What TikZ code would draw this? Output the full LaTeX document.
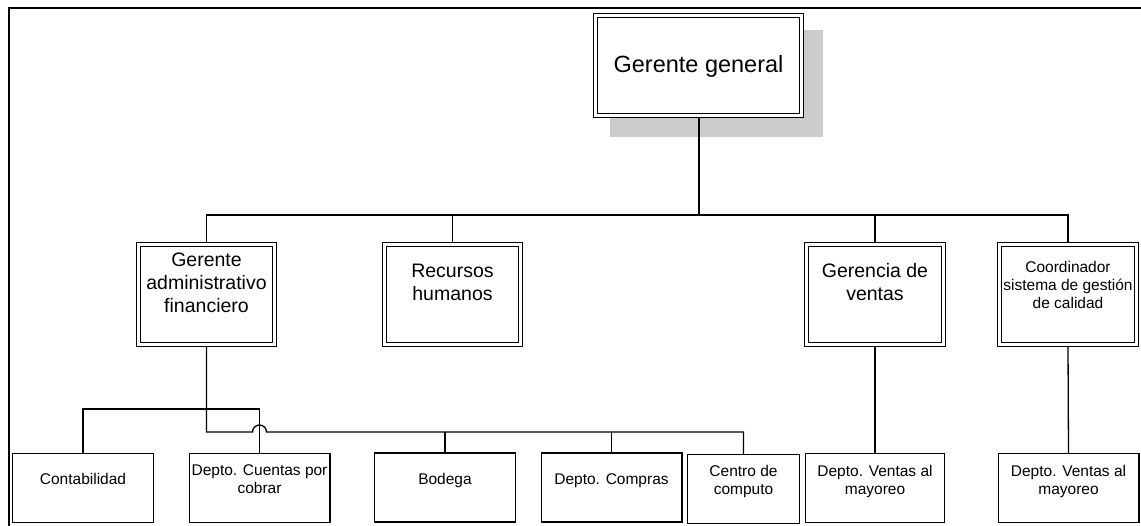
\documentclass[tikz,border=0pt]{standalone}
\usepackage{fontspec}
\setmainfont{Liberation Sans}
\usetikzlibrary{backgrounds,calc}
\definecolor{shadowgray}{HTML}{CCCCCC}
\begin{document}
\begin{tikzpicture}[x=1pt,y=-1pt,
  dbox/.style={draw=black, line width=0.9pt, double=white, double distance=2.8pt,
    fill=white, inner sep=0pt, outer sep=0pt, minimum height=100.4pt},
  sbox/.style={draw=black, line width=1.3pt, fill=white, inner sep=0pt, outer sep=0pt,
    minimum width=140.7pt, minimum height=68.7pt},
  conn/.style={line width=1.3pt},
  bigtxt/.style={align=center, inner sep=0pt, font=\fontsize{23.5}{27}\selectfont},
  midtxt/.style={align=center, inner sep=0pt, font=\fontsize{19.5}{23}\selectfont},
  smalltxt/.style={align=center, inner sep=0pt, font=\fontsize{15.5}{18}\selectfont}]
\useasboundingbox (0,0) rectangle (1141,526);

% top level
\node[dbox, minimum width=206.4pt, label={[bigtxt, yshift=-1pt]center:Gerente general}] (gg) at (698.5,65.5) {};

% second level
\node[dbox, minimum width=136.4pt, label={[midtxt, yshift=11.5pt]center:{Gerente\\administrativo\\financiero}}] (gaf) at (206.5,294.5) {};
\node[dbox, minimum width=136.4pt, label={[midtxt, yshift=12pt]center:{Recursos\\humanos}}] (rh) at (452.5,294.5) {};
\node[dbox, minimum width=137.4pt, label={[midtxt, yshift=12pt]center:{Gerencia de\\ventas}}] (gv) at (875,294.5) {};
\node[dbox, minimum width=137.4pt, label={[smalltxt, yshift=10pt]center:{Coordinador\\sistema de gestión\\de calidad}}] (coord) at (1068,294.5) {};

% third level
\node[sbox, label={[smalltxt, yshift=9.5pt]center:Contabilidad}] (conta) at (83,488) {};
\node[sbox, label={[smalltxt, yshift=9pt]center:{Depto. Cuentas por\\cobrar}}] (cxc) at (259.5,488) {};
\node[sbox, label={[smalltxt, yshift=7pt]center:Bodega}] (bodega) at (445,487.5) {};
\node[sbox, label={[smalltxt, yshift=7pt]center:Depto. Compras}] (compras) at (611.5,487.5) {};
\node[sbox, minimum width=111.7pt, label={[smalltxt, yshift=8pt]center:{Centro de\\computo}}] (centro) at (743.5,489) {};
\node[sbox, minimum width=138.7pt, label={[smalltxt, yshift=7pt]center:{Depto. Ventas al\\mayoreo}}] (v1) at (875,488) {};
\node[sbox, label={[smalltxt, yshift=7pt]center:{Depto. Ventas al\\mayoreo}}] (v2) at (1068.5,488) {};

\begin{scope}[on background layer]
  \fill[shadowgray] (610,30) rectangle (823,137);
  \coordinate (busA) at (698.5,215);
  \coordinate (busB) at (206.5,432);
  \coordinate (busC) at (83,409);
  \draw[line width=2pt] (gg.south) -- (busA);
  \draw[conn] (gaf.north) |- (busA) -| (coord.north);
  \draw[conn] (rh.north) -- (rh.north |- busA);
  \draw[conn] (gv.north) -- (gv.north |- busA);
  \draw[conn] (gaf.south) |- ($(cxc.north |- busB)+(-7,0)$)
     arc[start angle=180, end angle=360, radius=7] -| (centro.north);
  \draw[conn] (bodega.north) -- (bodega.north |- busB);
  \draw[conn] (compras.north) -- (compras.north |- busB);
  \draw[conn] (conta.north) -- (conta.north |- busC) -| (cxc.north);
  \draw[conn] (gv.south) -- (v1.north);
  \draw[conn] (coord.south) -- (v2.north);
\end{scope}

% outer frame
\draw[line width=2pt] (9,526) -- (9,8.5) -- (1141,8.5);
\end{tikzpicture}
\end{document}
